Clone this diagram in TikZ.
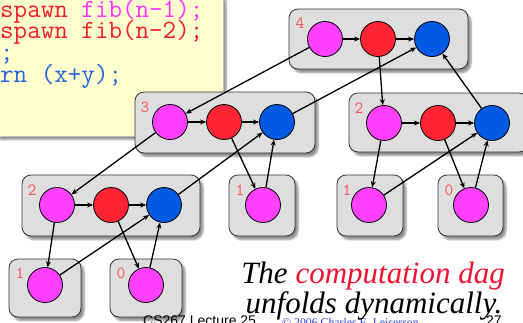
\documentclass[tikz,border=0pt]{standalone}
\usepackage{fontspec}
\setmainfont{Liberation Serif}
\setsansfont{Liberation Sans}
\usetikzlibrary{arrows.meta,shadows.blur}
\definecolor{codebg}{RGB}{255,255,206}
\definecolor{boxgray}{RGB}{222,222,222}
\definecolor{cmag}{RGB}{255,64,255}
\definecolor{cred}{RGB}{255,36,52}
\definecolor{cblue}{RGB}{0,90,228}
\definecolor{txtred}{RGB}{240,30,40}
\definecolor{txtmag}{RGB}{250,50,250}
\definecolor{txtblue}{RGB}{40,100,220}
\definecolor{labred}{RGB}{255,80,80}
\definecolor{dagred}{RGB}{240,20,50}
\definecolor{copyblue}{RGB}{40,60,200}
\begin{document}
\begin{tikzpicture}[x=1pt,y=-1pt,
  box/.style={draw=black!80, line width=0.8pt, fill=boxgray, rounded corners=9pt,
    inner sep=0pt,
    blur shadow={shadow xshift=3pt, shadow yshift=-3.5pt, shadow blur steps=6, shadow opacity=45}},
  vtx/.style={circle, draw=black, line width=0.8pt, minimum size=35pt, inner sep=0pt},
  vm/.style={vtx, fill=cmag},
  vr/.style={vtx, fill=cred},
  vb/.style={vtx, fill=cblue},
  lab/.style={text=labred, font=\ttfamily\fontsize{17}{17}\selectfont, inner sep=0pt},
  arr/.style={line width=1.3pt, -{Stealth[length=6pt,width=5pt]}},
  code/.style={anchor=base west, inner sep=0pt, font=\ttfamily\fontsize{26.3}{26}\selectfont}
]
\useasboundingbox (0,0) rectangle (523,322);
% code panel
\path[fill=codebg, draw=black!25, line width=0.6pt,
  blur shadow={shadow xshift=3pt, shadow yshift=-3.5pt, shadow blur steps=6, shadow opacity=45}]
  (-3,-3) rectangle (223,136);
\node[code] (c1) at (0,17) {\textcolor{txtred}{spawn} \textcolor{txtmag}{fib(n-1);}};
\node[code, text=txtred] (c2) at (0,38) {spawn fib(n-2);};
\node[code, text=txtblue] (c3) at (0,60) {;};
\node[code, text=txtblue] (c4) at (0,82) {rn (x+y);};

% boxes
\node[box, minimum width=179pt, minimum height=60pt] (B4) at (378.5,39) {};
\node[box, minimum width=180pt, minimum height=61pt] (B3) at (225,122.5) {};
\node[box, minimum width=179pt, minimum height=59pt] (B2R) at (438.5,122.5) {};
\node[box, minimum width=178pt, minimum height=61pt] (B2L) at (111,205.5) {};
\node[box, minimum width=66pt, minimum height=61pt] (B1M) at (262,205.5) {};
\node[box, minimum width=66pt, minimum height=61pt] (B1R) at (370,205.5) {};
\node[box, minimum width=65pt, minimum height=61pt] (B0R) at (470.5,205.5) {};
\node[box, minimum width=72pt, minimum height=58pt] (B1B) at (45,288) {};
\node[box, minimum width=72pt, minimum height=58pt] (B0B) at (146,288) {};

% labels
\node[lab] (l4) at (300,23) {4};
\node[lab] (l3) at (145,107) {3};
\node[lab] (l2r) at (359,108) {2};
\node[lab] (l2l) at (32,190) {2};
\node[lab] (l1m) at (240,190) {1};
\node[lab] (l1r) at (347,190) {1};
\node[lab] (l0r) at (449,190) {0};
\node[lab] (l1b) at (20,273) {1};
\node[lab] (l0b) at (121,273) {0};

% vertices
\node[vm] (m4) at (325,39) {};
\node[vr] (r4) at (378,39) {};
\node[vb] (b4) at (432,39) {};
\node[vm] (m3) at (170,122) {};
\node[vr] (r3) at (224,122) {};
\node[vb] (b3) at (277,122) {};
\node[vm] (m2r) at (384,123) {};
\node[vr] (r2r) at (438,123) {};
\node[vb] (b2r) at (492,123) {};
\node[vm] (m2l) at (57,205) {};
\node[vr] (r2l) at (111,205) {};
\node[vb] (b2l) at (164,205) {};
\node[vm] (m1m) at (263,205) {};
\node[vm] (m1r) at (369,205) {};
\node[vm] (m0r) at (471,205) {};
\node[vm] (m1b) at (45,285) {};
\node[vm] (m0b) at (146,285) {};

% edges within frames
\draw[arr] (m4) -- (r4);
\draw[arr] (r4) -- (b4);
\draw[arr] (m3) -- (r3);
\draw[arr] (r3) -- (b3);
\draw[arr] (m2r) -- (r2r);
\draw[arr] (r2r) -- (b2r);
\draw[arr] (m2l) -- (r2l);
\draw[arr] (r2l) -- (b2l);

% spawn / return edges
\draw[arr] (m4) -- (m3);
\draw[arr] (r4) -- (m2r);
\draw[arr] (b3) -- (b4);
\draw[arr] (b2r) -- (b4);
\draw[arr] (m3) -- (m2l);
\draw[arr] (r3) -- (m1m);
\draw[arr] (m1m) -- (b3);
\draw[arr] (b2l) -- (b3);
\draw[arr] (m2r) -- (m1r);
\draw[arr] (r2r) -- (m0r);
\draw[arr] (m0r) -- (b2r);
\draw[arr] (m1r) -- (b2r);
\draw[arr] (m2l) -- (m1b);
\draw[arr] (r2l) -- (m0b);
\draw[arr] (m0b) -- (b2l);
\draw[arr] (m1b) -- (b2l);

% footer
\node[anchor=base west, inner sep=0pt, font=\sffamily\fontsize{14}{14}\selectfont] (foot) at (143,325) {CS267 Lecture 25};
\node[anchor=base west, inner sep=0pt, text=copyblue, font=\fontsize{11.8}{12}\selectfont] (copy) at (282,326) {© 2006 Charles E. Leiserson};
\node[anchor=base west, inner sep=0pt, font=\sffamily\fontsize{14}{14}\selectfont] (pg) at (486,325) {27};

% caption
\node[anchor=base, inner sep=0pt, font=\itshape\fontsize{31}{31}\selectfont] (t1) at (373,283) {The \textcolor{dagred}{computation dag}};
\node[anchor=base, inner sep=0pt, font=\itshape\fontsize{31}{31}\selectfont] (t2) at (374,313) {unfolds dynamically.};
\end{tikzpicture}
\end{document}
